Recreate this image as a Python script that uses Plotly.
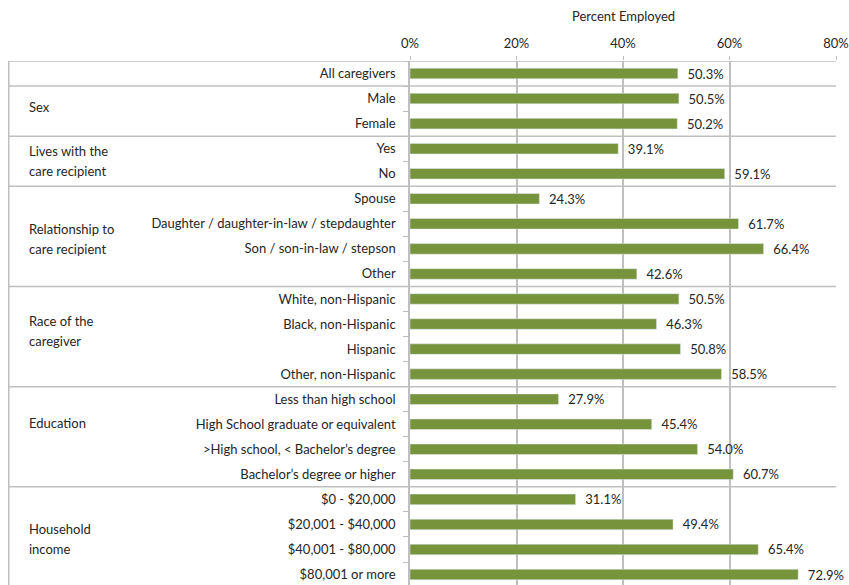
import plotly.graph_objects as go

# rows, top to bottom
categories = [
    "All caregivers",
    "Male", "Female",
    "Yes", "No",
    "Spouse", "Daughter / daughter-in-law / stepdaughter",
    "Son / son-in-law / stepson", "Other",
    "White, non-Hispanic", "Black, non-Hispanic", "Hispanic", "Other, non-Hispanic",
    "Less than high school", "High School graduate or equivalent",
    ">High school, < Bachelor\u2019s degree", "Bachelor\u2019s degree or higher",
    "$0 - $20,000", "$20,001 - $40,000", "$40,001 - $80,000", "$80,001 or more",
]
pct_employed = [
    50.3,
    50.5, 50.2,
    39.1, 59.1,
    24.3, 61.7, 66.4, 42.6,
    50.5, 46.3, 50.8, 58.5,
    27.9, 45.4, 54.0, 60.7,
    31.1, 49.4, 65.4, 72.9,
]
group_sizes = [1, 2, 2, 4, 4, 4, 4]
# group label lines and the row position each one sits at
group_lines = [
    ("Sex", 1.33),
    ("Lives with the", 3.1), ("care recipient", 3.9),
    ("Relationship to", 6.22), ("care recipient", 7.0),
    ("Race of the", 9.86), ("caregiver", 10.66),
    ("Education", 13.94),
    ("Household", 18.17), ("income", 18.97),
]
x_ticks = [0, 20, 40, 60, 80]

FONT = "Lato, 'Open Sans', sans-serif"
TEXT = "#262626"
BAR = "#77933C"
LINE = "#BFBFBF"

W, H = 849, 585
L, R, T, B = 410, 13, 61, 0
ROW_PX = 25.05
plot_w = W - L - R
rows_visible = (H - T - B) / ROW_PX

rows = list(range(len(categories)))

fig = go.Figure(go.Bar(
    x=pct_employed, y=rows, orientation="h",
    marker_color=BAR, width=0.42,
    text=[f"{v:.1f}%" for v in pct_employed],
    texttemplate="  %{text}",
    textposition="outside", cliponaxis=False, constraintext="none",
    textfont=dict(family=FONT, size=13, color=TEXT),
))

# table frame: top line, group separators, left border
x_left = (8.75 - L) / plot_w
y_top = -0.5
y_bottom = -0.5 + rows_visible + 1
boundaries = [y_top]
acc = 0
for n in group_sizes[:-1]:
    acc += n
    boundaries.append(acc - 0.5)
for yb in boundaries:
    fig.add_shape(type="line", xref="paper", yref="y", x0=x_left, x1=1, y0=yb, y1=yb,
                  line=dict(color=LINE, width=1.5), layer="below")
fig.add_shape(type="line", xref="paper", yref="y", x0=x_left, x1=x_left, y0=y_top, y1=y_bottom,
              line=dict(color=LINE, width=1.5), layer="below")

# group labels
for text, pos in group_lines:
    fig.add_annotation(text=text, xref="paper", yref="y", x=(27 - L) / plot_w, y=pos,
                       xanchor="left", yanchor="middle", align="left", showarrow=False,
                       font=dict(family=FONT, size=13, color=TEXT))

fig.add_annotation(text="Percent Employed", xref="paper", yref="paper", x=0.5,
                   y=1 + (T - 16) / (H - T - B), xanchor="center", yanchor="middle",
                   showarrow=False, font=dict(family=FONT, size=13, color=TEXT))

fig.update_layout(
    width=W, height=H,
    margin=dict(l=L, r=R, t=T, b=B),
    plot_bgcolor="white", paper_bgcolor="white",
    showlegend=False,
    xaxis=dict(
        side="top", range=[0, 80], tickvals=x_ticks, ticktext=[f"{v}%" for v in x_ticks],
        showgrid=True, gridcolor=LINE, gridwidth=1.5, zeroline=False,
        ticks="outside", ticklen=4, tickcolor=LINE,
        ticklabelstandoff=3,
        tickfont=dict(family=FONT, size=13, color=TEXT),
        fixedrange=True,
    ),
    yaxis=dict(
        range=[y_top + rows_visible, y_top],
        tickvals=rows, ticktext=categories, ticks="",
        showgrid=False, zeroline=False,
        showline=True, linecolor=LINE, linewidth=1.5,
        minor=dict(tick0=0.5, dtick=1, ticks="outside", ticklen=5, tickcolor=LINE, showgrid=False),
        ticklabelstandoff=10,
        tickfont=dict(family=FONT, size=13, color=TEXT),
        fixedrange=True,
    ),
)

# drop the default page margin so the figure fills the window exactly
fig.write_html("out.html", config={"displayModeBar": False},
               post_script="document.body.style.margin='0';document.body.style.overflow='hidden';")
